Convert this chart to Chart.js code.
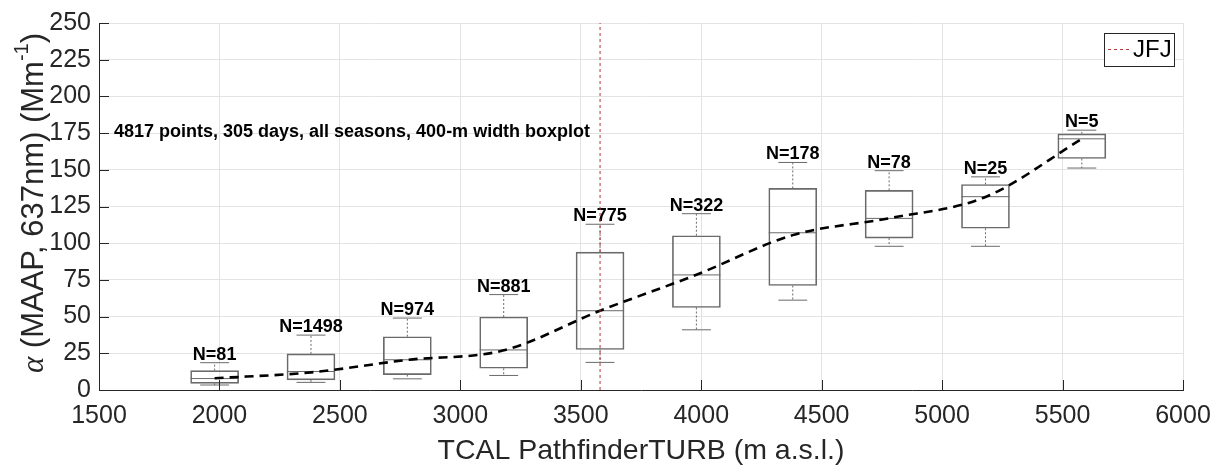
<!DOCTYPE html>
<html>
<head>
<meta charset="utf-8">
<title>Absorption vs altitude</title>
<script src="https://cdn.jsdelivr.net/npm/chart.js@4.4.1/dist/chart.umd.min.js"></script>
<style>
  html, body { margin: 0; padding: 0; background: #fff; }
  #wrap { width: 1223px; height: 468px; }
</style>
</head>
<body>
<div id="wrap"><canvas id="boxChart" width="1223" height="468"></canvas></div>
<script>
// altitude bins (bin centres, m a.s.l.) and box statistics per bin
var altitudes   = [1980, 2380, 2780, 3180, 3580, 3980, 4380, 4780, 5180, 5580];
var whiskerLow  = [3.4, 5.2, 7.6, 9.9, 18.8, 41, 61.2, 97.9, 97.9, 151.2];
var quart1      = [4.5, 6.9, 10.5, 14.8, 27.6, 56.2, 71.2, 103.5, 110.2, 157.7];
var medians     = [7.8, 12.6, 20.6, 27.3, 54, 78.4, 107.1, 116.9, 131.7, 171.1];
var quart3      = [13.2, 24.6, 36.3, 49.7, 93.9, 105.1, 137.3, 136, 140, 174.5];
var whiskerHigh = [18.6, 37.4, 49, 65, 112.9, 120.1, 155, 149.4, 145.2, 177];
var counts      = [81, 1498, 974, 881, 775, 322, 178, 78, 25, 5];
var trend       = [8, 12, 20.5, 27, 54, 78.5, 105.5, 117, 131.5, 171];

var jfjAltitude = 3580;
var xTicks = [1500, 2000, 2500, 3000, 3500, 4000, 4500, 5000, 5500, 6000];
var yTicks = [0, 25, 50, 75, 100, 125, 150, 175, 200, 225, 250];
var note = '4817 points, 305 days, all seasons, 400-m width boxplot';

var SANS = '"Liberation Sans", Arial, Helvetica, sans-serif';
var AXIS = '#262626';
var BOXC = '#6a6a6a';
var JFJC = '#b03a3a';
var BOX_W = 200, CAP_W = 120;

// segments separated by null points so one dataset holds many short lines
function segs(list) {
  var out = [];
  list.forEach(function (s) {
    out.push({x: s[0], y: s[1]}, {x: s[2], y: s[3]}, {x: s[2], y: null});
  });
  return out;
}

var whiskerData = segs(altitudes.map(function (a, i) { return [a, quart3[i], a, whiskerHigh[i]]; })
  .concat(altitudes.map(function (a, i) { return [a, quart1[i], a, whiskerLow[i]]; })));
var capData = segs(altitudes.map(function (a, i) { return [a - CAP_W / 2, whiskerHigh[i], a + CAP_W / 2, whiskerHigh[i]]; })
  .concat(altitudes.map(function (a, i) { return [a - CAP_W / 2, whiskerLow[i], a + CAP_W / 2, whiskerLow[i]]; })));
var medianData = segs(altitudes.map(function (a, i) { return [a - BOX_W / 2, medians[i], a + BOX_W / 2, medians[i]]; }));

// N=.. labels and the note line (under the JFJ line)
var boxLabels = {
  id: 'boxLabels',
  beforeDatasetsDraw: function (chart) {
    var ctx = chart.ctx, xs = chart.scales.x, ys = chart.scales.y;
    ctx.save();
    ctx.fillStyle = '#000';
    ctx.font = 'bold 18px ' + SANS;
    ctx.textAlign = 'center';
    ctx.textBaseline = 'alphabetic';
    altitudes.forEach(function (a, i) {
      ctx.fillText('N=' + counts[i], xs.getPixelForValue(a), ys.getPixelForValue(whiskerHigh[i]) - 3);
    });
    ctx.textAlign = 'left';
    ctx.textBaseline = 'middle';
    ctx.fillText(note, xs.getPixelForValue(1562), ys.getPixelForValue(176));
    ctx.restore();
  }
};

// tick marks pointing into the plot
var innerTicks = {
  id: 'innerTicks',
  afterDatasetsDraw: function (chart) {
    var ctx = chart.ctx, xs = chart.scales.x, ys = chart.scales.y, area = chart.chartArea;
    ctx.save();
    ctx.strokeStyle = AXIS;
    ctx.lineWidth = 1;
    ctx.beginPath();
    xTicks.forEach(function (v) {
      var px = Math.round(xs.getPixelForValue(v)) + 0.5;
      ctx.moveTo(px, area.bottom); ctx.lineTo(px, area.bottom - 10);
    });
    yTicks.forEach(function (v) {
      var py = Math.round(ys.getPixelForValue(v)) + 0.5;
      ctx.moveTo(area.left, py); ctx.lineTo(area.left + 10, py);
    });
    ctx.stroke();
    ctx.restore();
  }
};

// boxed legend in the upper right corner, plus the y axis title
var extras = {
  id: 'extras',
  afterDraw: function (chart) {
    var ctx = chart.ctx, area = chart.chartArea;
    ctx.save();
    var bx = area.right - 79, by = area.top + 10, bw = 70, bh = 33;
    ctx.fillStyle = '#fff';
    ctx.fillRect(bx, by, bw, bh);
    ctx.strokeStyle = AXIS;
    ctx.lineWidth = 1;
    ctx.strokeRect(bx + 0.5, by + 0.5, bw, bh);
    ctx.strokeStyle = JFJC;
    ctx.setLineDash([3, 3]);
    ctx.beginPath();
    ctx.moveTo(bx + 4, by + 16.5); ctx.lineTo(bx + 27, by + 16.5);
    ctx.stroke();
    ctx.setLineDash([]);
    ctx.fillStyle = '#000';
    ctx.font = '24px ' + SANS;
    ctx.textAlign = 'left';
    ctx.textBaseline = 'middle';
    ctx.fillText('JFJ', bx + 29, by + 17);

    // y title: α (MAAP, 637nm) (Mm^-1)
    var parts = [
      {t: '\u03B1', f: 'italic 31px "Liberation Serif", "Times New Roman", serif', dy: 0},
      {t: ' (MAAP, 637nm) (Mm', f: '31px ' + SANS, dy: 0},
      {t: '-1', f: '20px ' + SANS, dy: -15},
      {t: ')', f: '31px ' + SANS, dy: 0}
    ];
    var total = 0;
    parts.forEach(function (p) { ctx.font = p.f; p.w = ctx.measureText(p.t).width; total += p.w; });
    ctx.translate(43, 203);
    ctx.rotate(-Math.PI / 2);
    ctx.fillStyle = AXIS;
    ctx.textBaseline = 'alphabetic';
    var cx = -total / 2;
    parts.forEach(function (p) {
      ctx.font = p.f;
      ctx.fillText(p.t, cx, p.dy);
      cx += p.w;
    });
    ctx.restore();
  }
};

function plain(v) { return String(v); }

var ctxB = document.getElementById('boxChart').getContext('2d');
var boxChart = new Chart(ctxB, {
  type: 'bar',
  data: {
    datasets: [{
      type: 'line',
      label: 'JFJ',
      data: [{x: jfjAltitude, y: 0}, {x: jfjAltitude, y: 250}],
      borderColor: JFJC,
      borderWidth: 1,
      borderDash: [3, 3],
      pointRadius: 0,
      fill: false,
      order: 0
    }, {
      type: 'line',
      label: 'trend',
      data: altitudes.map(function (a, i) { return {x: a, y: trend[i]}; }),
      borderColor: '#000',
      borderWidth: 2.6,
      borderDash: [9, 6],
      cubicInterpolationMode: 'monotone',
      pointRadius: 0,
      fill: false,
      order: 1
    }, {
      type: 'line',
      label: 'median',
      data: medianData,
      borderColor: BOXC,
      borderWidth: 1,
      pointRadius: 0,
      spanGaps: false,
      fill: false,
      order: 2
    }, {
      type: 'line',
      label: 'whisker',
      data: whiskerData,
      borderColor: BOXC,
      borderWidth: 1,
      borderDash: [2, 2],
      pointRadius: 0,
      spanGaps: false,
      fill: false,
      order: 3
    }, {
      type: 'line',
      label: 'cap',
      data: capData,
      borderColor: BOXC,
      borderWidth: 1,
      pointRadius: 0,
      spanGaps: false,
      fill: false,
      order: 4
    }, {
      type: 'bar',
      label: 'box',
      data: altitudes.map(function (a, i) { return {x: a, y: [quart1[i], quart3[i]]}; }),
      backgroundColor: 'rgba(255,255,255,0)',
      borderColor: BOXC,
      borderWidth: 1,
      borderSkipped: false,
      barThickness: 48,
      order: 5
    }]
  },
  options: {
    responsive: false,
    animation: false,
    layout: { padding: { top: 18, right: 40, left: 0, bottom: 0 } },
    plugins: {
      legend: { display: false },
      tooltip: { enabled: false }
    },
    scales: {
      x: {
        type: 'linear',
        offset: false,
        min: 1500, max: 6000,
        afterBuildTicks: function (s) { s.ticks = xTicks.map(function (v) { return {value: v}; }); },
        afterFit: function (s) { s.height = 78; },
        grid: { color: '#e3e3e3', drawTicks: false, offset: false },
        border: { color: AXIS, width: 1 },
        ticks: { color: AXIS, font: { size: 25, family: SANS }, padding: 11, maxRotation: 0, callback: plain },
        title: { display: true, text: 'TCAL PathfinderTURB (m a.s.l.)', color: AXIS,
                 font: { size: 28.5, family: SANS }, padding: { top: 0, bottom: 0 } }
      },
      y: {
        min: 0, max: 250,
        afterBuildTicks: function (s) { s.ticks = yTicks.map(function (v) { return {value: v}; }); },
        afterFit: function (s) { s.width = 99; },
        grid: { color: '#e3e3e3', drawTicks: false },
        border: { color: AXIS, width: 1 },
        ticks: { color: AXIS, font: { size: 25, family: SANS }, padding: 8, callback: plain }
      }
    }
  },
  plugins: [boxLabels, innerTicks, extras]
});
</script>
</body>
</html>
